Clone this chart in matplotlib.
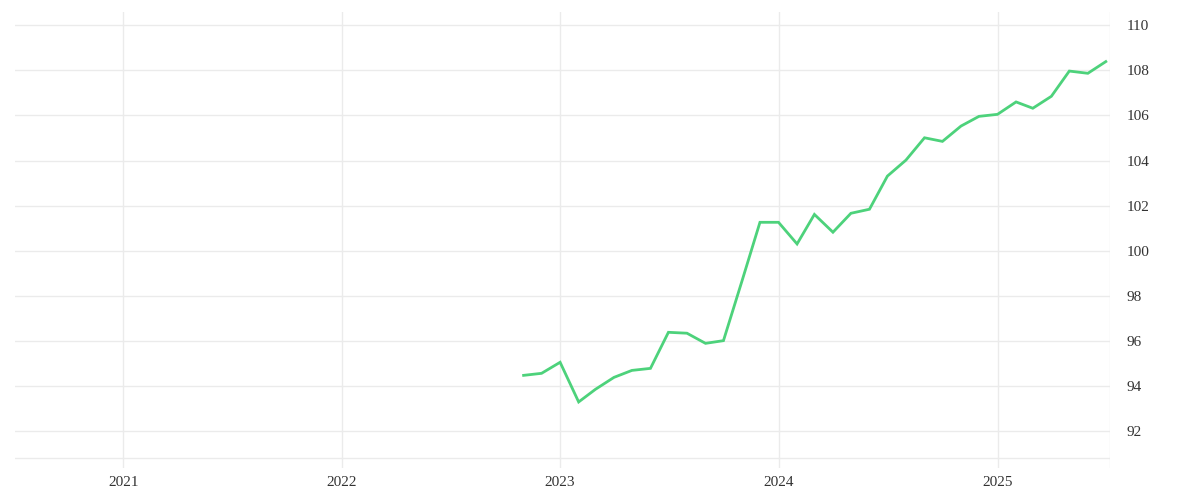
import numpy as np
import pandas as pd
import matplotlib
matplotlib.use("Agg")
import matplotlib.pyplot as plt
import matplotlib.dates as mdates

# monthly index values, Nov 2022 - Jul 2025
months = pd.date_range("2022-11-01", "2025-07-01", freq="MS")
values = [94.47, 94.56, 95.05, 93.29, 93.85, 94.38, 94.69, 94.78,
          96.38, 96.34, 95.89, 96.01, 98.66, 101.26, 101.26, 100.30,
          101.61, 100.82, 101.66, 101.84, 103.31, 104.02, 105.01, 104.85,
          105.53, 105.96, 106.05, 106.60, 106.32, 106.85, 107.97, 107.87,
          108.39]
year_ticks = ["2021", "2022", "2023", "2024", "2025"]
y_ticks = [92, 94, 96, 98, 100, 102, 104, 106, 108, 110]

plt.rcParams['font.family'] = ['Liberation Serif', 'DejaVu Serif']

fig = plt.figure(figsize=(12, 5), dpi=100)
ax = fig.add_axes([15/1200, 32/500, 1095/1200, 456/500])

grid_col = "#ebebeb"
ax.plot(months, values, color="#4dd27b", lw=2.0, solid_joinstyle="miter", zorder=3)

ax.set_xlim(pd.Timestamp("2020-07-04"), pd.Timestamp("2025-07-08"))
ax.set_ylim(90.36, 110.59)

ax.set_xticks([pd.Timestamp(y + "-01-01") for y in year_ticks])
ax.xaxis.set_major_formatter(mdates.DateFormatter("%Y"))
ax.set_yticks(y_ticks)
ax.yaxis.tick_right()
ax.grid(True, color=grid_col, lw=1.0)
ax.axhline(90.8, color=grid_col, lw=1.0, zorder=0)
ax.axvline(pd.Timestamp("2025-07-08"), color=grid_col, lw=1.0, zorder=0)

for s in ax.spines.values():
    s.set_visible(False)
ax.tick_params(axis="both", length=0, labelsize=11, labelcolor="#333333")
ax.tick_params(axis="y", pad=12)
ax.tick_params(axis="x", pad=6)

fig.savefig("out.png", dpi=100)
